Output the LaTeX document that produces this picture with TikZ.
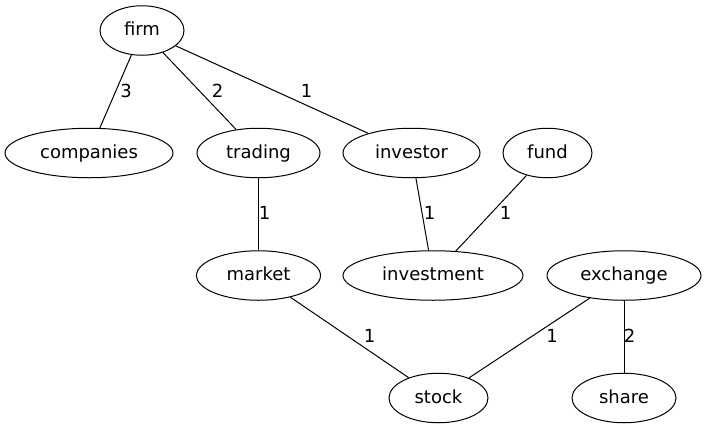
\documentclass[tikz,border=0pt]{standalone}
\usepackage{fontspec}
\setmainfont{DejaVu Sans}
\usetikzlibrary{shapes.geometric}
\tikzset{
  vtx/.style={draw, ellipse, line width=1pt, inner sep=0pt, minimum height=49.5pt,
    font=\fontsize{18}{18}\selectfont, text height=12.96pt, text depth=2.34pt},
  edge/.style={line width=1pt},
  lbl/.style={inner sep=0pt, font=\fontsize{18}{18}\selectfont}
}
\begin{document}
\begin{tikzpicture}[x=1pt, y=-1pt]
\useasboundingbox (0,0) rectangle (707,429);
\node[vtx, minimum width=84pt]  (firm)       at (142,30.5)   {firm};
\node[vtx, minimum width=168pt] (companies)  at (89,153)     {companies};
\node[vtx, minimum width=123pt] (trading)    at (258.5,153)  {trading};
\node[vtx, minimum width=137pt] (investor)   at (411.5,153)  {investor};
\node[vtx, minimum width=89pt]  (fund)       at (547.5,153)  {fund};
\node[vtx, minimum width=124pt] (market)     at (258.5,275.5){market};
\node[vtx, minimum width=180pt] (investment) at (433,275.5)  {investment};
\node[vtx, minimum width=154pt] (exchange)   at (624,275.5)  {exchange};
\node[vtx, minimum width=99pt]  (stock)      at (438.5,398)  {stock};
\node[vtx, minimum width=104pt] (share)      at (624,398)    {share};

\draw[edge] (firm) -- (companies);
\draw[edge] (firm) -- (trading);
\draw[edge] (firm) -- (investor);
\draw[edge] (trading) -- (market);
\draw[edge] (investor) -- (investment);
\draw[edge] (fund) -- (investment);
\draw[edge] (market) -- (stock);
\draw[edge] (exchange) -- (stock);
\draw[edge] (exchange) -- (share);

\node[lbl] (l1) at (126,91)      {3};
\node[lbl] (l2) at (217.5,91)    {2};
\node[lbl] (l3) at (306.5,91)    {1};
\node[lbl] (l4) at (264.7,212.5) {1};
\node[lbl] (l5) at (429.5,212.5) {1};
\node[lbl] (l6) at (505.7,212.5) {1};
\node[lbl] (l7) at (369.5,335.5) {1};
\node[lbl] (l8) at (552,335.5)   {1};
\node[lbl] (l9) at (629.5,335.5) {2};
\end{tikzpicture}
\end{document}
